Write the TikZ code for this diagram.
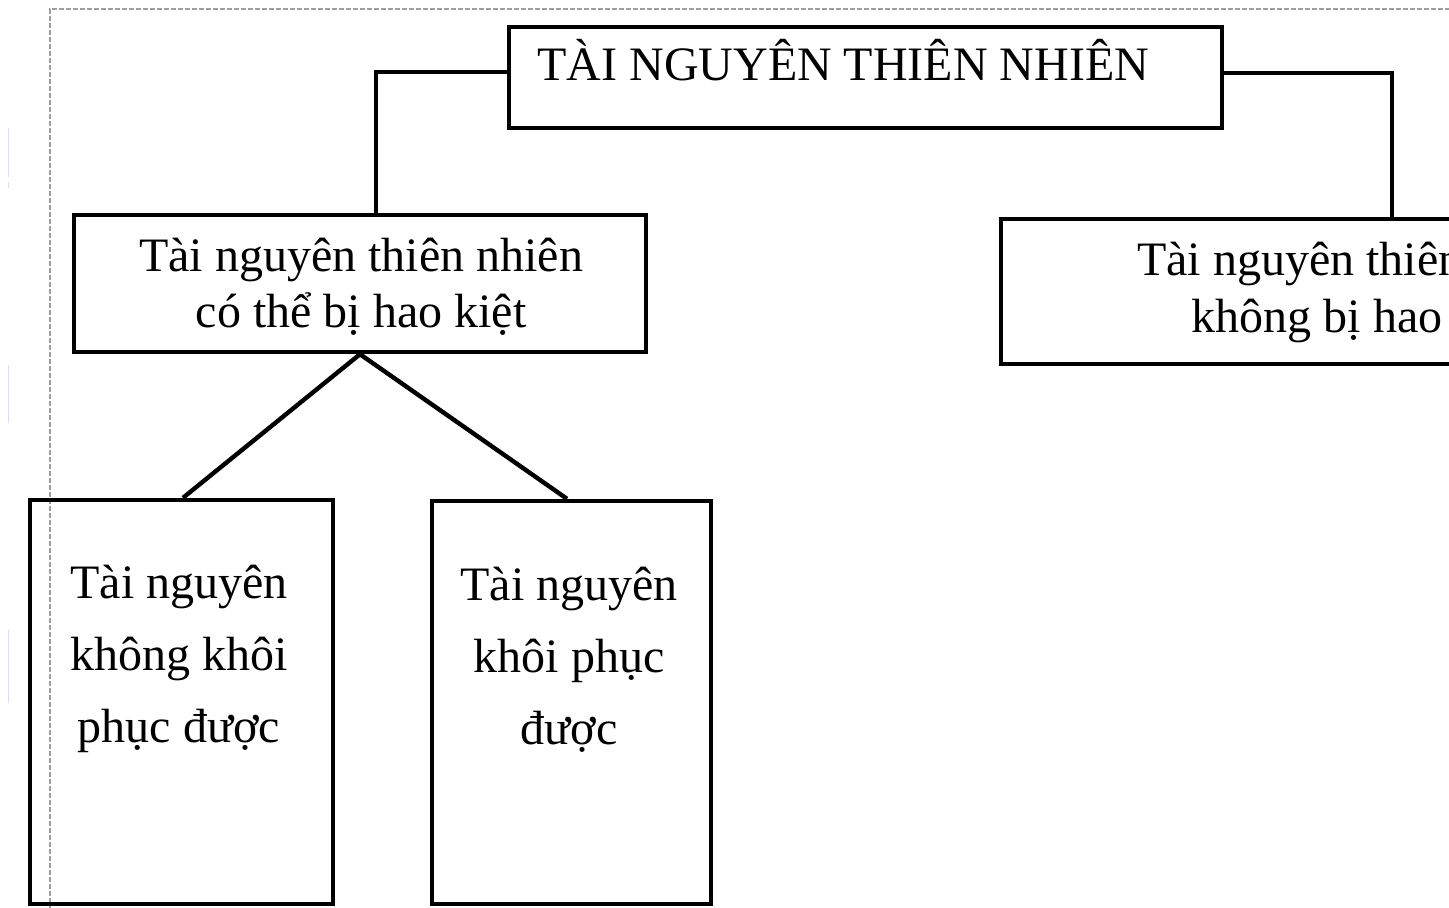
\documentclass[tikz,border=0pt]{standalone}
\usepackage{fontspec}
\setmainfont{Liberation Serif}
\begin{document}
\begin{tikzpicture}[x=0.5pt,y=-0.5pt,
  box/.style={draw=black, line width=2.2pt, rectangle, inner sep=0pt},
  conn/.style={draw=black, line width=2.2pt, line join=miter},
  txt/.style={inner sep=0pt, align=center, anchor=north},
  frame/.style={draw=black!38, line width=0.65pt, dash pattern=on 2.5pt off 1pt},
  faint/.style={draw=blue!14, line width=0.5pt}]
\useasboundingbox (0,0) rectangle (1449,907);
\clip (0,0) rectangle (1449,907);
\fill[white] (0,0) rectangle (1449,907);
% page frame and faint marks
\draw[frame] (50,910) -- (50,9) -- (1455,9);
\draw[faint] (8,128) -- (8,177);
\draw[faint] (8,182) -- (8,188);
\draw[faint] (8,365) -- (8,423);
\draw[faint] (8,630) -- (8,703);
% boxes
\node[box, minimum width=356.5pt, minimum height=50.5pt] (top) at (865.5,77.5) {};
\node[box, minimum width=286pt, minimum height=68.5pt] (ml) at (360,283.5) {};
\node[box, minimum width=358pt, minimum height=72.5pt] (rb) at (1359,291.5) {};
\node[box, minimum width=151.5pt, minimum height=202pt] (bl) at (181.5,702) {};
\node[box, minimum width=139.5pt, minimum height=201.5pt] (br) at (571.5,702.5) {};
% texts
\node[inner sep=0pt, anchor=base west, font=\fontsize{24}{28}\selectfont] (topt) at (537,80) {TÀI NGUYÊN THIÊN NHIÊN};
\node[txt, font=\fontsize{24}{28}\selectfont] (mlt) at (361,238) {Tài nguyên thiên nhiên\\có thể bị hao kiệt};
\node[txt, font=\fontsize{24}{28.5}\selectfont] (rbt) at (1359,242) {Tài nguyên thiên nhiên\\không bị hao kiệt};
\node[txt, font=\fontsize{24}{36}\selectfont] (blt) at (179,565) {Tài nguyên\\không khôi\\phục được};
\node[txt, font=\fontsize{24}{36}\selectfont] (brt) at (569,567) {Tài nguyên\\khôi phục\\được};
% connectors
\draw[conn] (top.west |- 0,72) -| (376,0 |- ml.north);
\draw[conn] (top.east |- 0,73) -| (1392,0 |- rb.north);
\draw[conn] (ml.south) -- (183,0 |- bl.north);
\draw[conn] (ml.south) -- (567,0 |- br.north);
\end{tikzpicture}
\end{document}
